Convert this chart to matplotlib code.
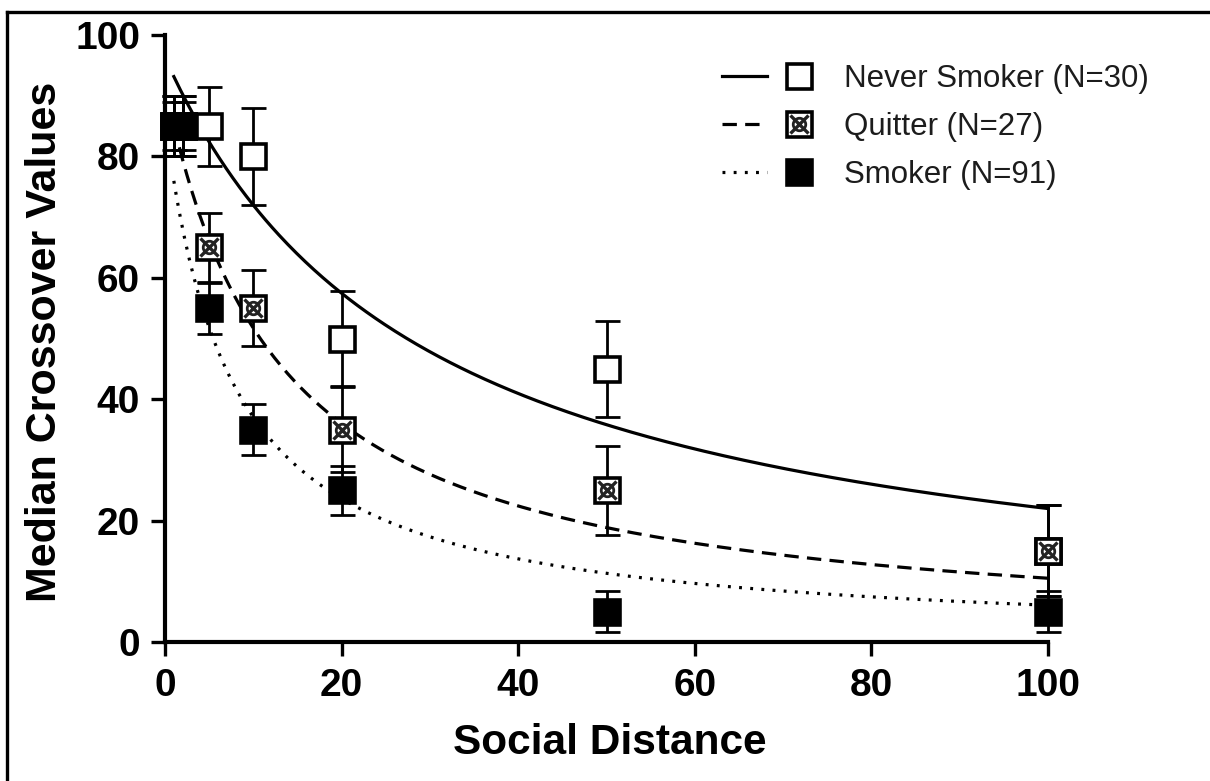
import numpy as np
import matplotlib
matplotlib.use("Agg")
import matplotlib.pyplot as plt
from matplotlib.lines import Line2D
from matplotlib.legend_handler import HandlerTuple

plt.rcParams["font.family"] = ["Liberation Sans", "DejaVu Sans"]

# Social distance levels
distance = [1, 2, 5, 10, 20, 50, 100]

# Median crossover values and error bars per group
never_vals = [85, 85, 85, 80, 50, 45, 15]
never_err = [5, 5, 6.5, 8, 7.8, 7.9, 7.5]
quit_vals = [85, 85, 65, 55, 35, 25, 15]
quit_err = [5, 5, 5.7, 6.3, 7, 7.3, 7.5]
smoke_vals = [85, 85, 55, 35, 25, 5, 5]
smoke_err = [4, 4, 4.2, 4.2, 4, 3.4, 3.4]

# Hyperbolic fits V = A / (1 + k * N)
never_fit = (96.3, 0.0338)
quit_fit = (91.7, 0.0773)
smoke_fit = (86.0, 0.132)

labels = ["Never Smoker (N=30)", "Quitter (N=27)", "Smoker (N=91)"]
xticks = [0, 20, 40, 60, 80, 100]
yticks = [0, 20, 40, 60, 80, 100]

W, H = 1210, 781
fig = plt.figure(figsize=(W / 100, H / 100), dpi=100)
ax_l, ax_r, ax_t, ax_b = 165, 1048, 35, 642
ax = fig.add_axes([ax_l / W, 1 - ax_b / H, (ax_r - ax_l) / W, (ax_b - ax_t) / H])

xs = np.linspace(1, 100, 400)
lw_curve = 2.3
dash_style = (0, (4.5, 2.6))
dot_style = (0, (0.9, 2.6))
ax.plot(xs, never_fit[0] / (1 + never_fit[1] * xs), color="black", lw=lw_curve, zorder=2)
ax.plot(xs, quit_fit[0] / (1 + quit_fit[1] * xs), color="black", lw=lw_curve,
        linestyle=dash_style, zorder=2)
ax.plot(xs, smoke_fit[0] / (1 + smoke_fit[1] * xs), color="black", lw=lw_curve,
        linestyle=dot_style, zorder=2)

ms = 18
mew = 2.6
eb_kw = dict(fmt="none", ecolor="black", elinewidth=2.0, capsize=9, capthick=2.0, clip_on=False)
x_kw = dict(marker="x", ls="none", ms=ms * 0.72, mec="#222222", mew=2.4)
o_kw = dict(marker="o", ls="none", ms=ms * 0.5, mfc="none", mec="#222222", mew=2.0)

# Never smoker: open squares
ax.errorbar(distance, never_vals, yerr=never_err, zorder=3, **eb_kw)
ax.plot(distance, never_vals, "s", ms=ms, mfc="white", mec="black", mew=mew, zorder=4, clip_on=False)

# Quitter: crossed squares
ax.errorbar(distance, quit_vals, yerr=quit_err, zorder=5, **eb_kw)
ax.plot(distance, quit_vals, "s", ms=ms, mfc="white", mec="black", mew=mew, zorder=6, clip_on=False)
ax.plot(distance, quit_vals, zorder=7, clip_on=False, **x_kw)
ax.plot(distance, quit_vals, zorder=7, clip_on=False, **o_kw)

# Smoker: filled squares
ax.errorbar(distance, smoke_vals, yerr=smoke_err, zorder=8, **eb_kw)
ax.plot(distance, smoke_vals, "s", ms=ms, mfc="black", mec="black", mew=mew, zorder=9, clip_on=False)

ax.set_xlim(0, 100)
ax.set_ylim(0, 100)
ax.set_xticks(xticks)
ax.set_yticks(yticks)
ax.tick_params(axis="both", which="major", length=10, width=2.4, direction="out",
               labelsize=28, pad=8)
ax.tick_params(axis="x", pad=9)
for lab in ax.get_xticklabels() + ax.get_yticklabels():
    lab.set_fontweight("bold")
for side in ("top", "right"):
    ax.spines[side].set_visible(False)
for side in ("left", "bottom"):
    ax.spines[side].set_linewidth(3)
    ax.spines[side].set_capstyle("projecting")

ax.set_xlabel("Social Distance", fontsize=30.5, fontweight="bold")
ax.xaxis.set_label_coords((610 - ax_l) / (ax_r - ax_l), -(743 - ax_b) / (ax_b - ax_t),
                          transform=ax.transAxes)
ax.xaxis.label.set_verticalalignment("center")
ax.set_ylabel("Median Crossover Values", fontsize=31, fontweight="bold")
ax.yaxis.set_label_coords(-(ax_l - 45) / (ax_r - ax_l), 0.495, transform=ax.transAxes)
ax.yaxis.label.set_verticalalignment("center")

# Legend handles: line sample next to marker
h_never = (Line2D([], [], color="black", lw=lw_curve),
           Line2D([], [], marker="s", ls="none", ms=ms, mfc="white", mec="black", mew=mew))
h_quit = (Line2D([], [], color="black", lw=lw_curve, linestyle=dash_style),
          (Line2D([], [], marker="s", ls="none", ms=ms, mfc="white", mec="black", mew=mew),
           Line2D([], [], **x_kw), Line2D([], [], **o_kw)))
h_smoke = (Line2D([], [], color="black", lw=lw_curve, linestyle=dot_style),
           Line2D([], [], marker="s", ls="none", ms=ms, mfc="black", mec="black", mew=mew))

pair = HandlerTuple(ndivide=None, pad=0.3)
leg = ax.legend([h_never, h_quit, h_smoke], labels,
                handler_map={h_never: pair, h_quit: pair, h_smoke: pair},
                loc="upper left", bbox_to_anchor=(722 / W, 1 - 64 / H),
                bbox_transform=fig.transFigure, frameon=False, fontsize=22.5,
                handlelength=3.2, handletextpad=0.72, labelspacing=0.58,
                borderpad=0, borderaxespad=0)
for t in leg.get_texts():
    t.set_color("#1c1c1c")

# Border lines along the top and left edges of the figure
fig.add_artist(Line2D([7 / W, 7 / W], [0, 1 - 12 / H], transform=fig.transFigure,
                      color="black", lw=2.4, solid_capstyle="projecting"))
fig.add_artist(Line2D([7 / W, 1], [1 - 12 / H, 1 - 12 / H], transform=fig.transFigure,
                      color="black", lw=2.4, solid_capstyle="projecting"))

fig.savefig("out.png", dpi=100)
